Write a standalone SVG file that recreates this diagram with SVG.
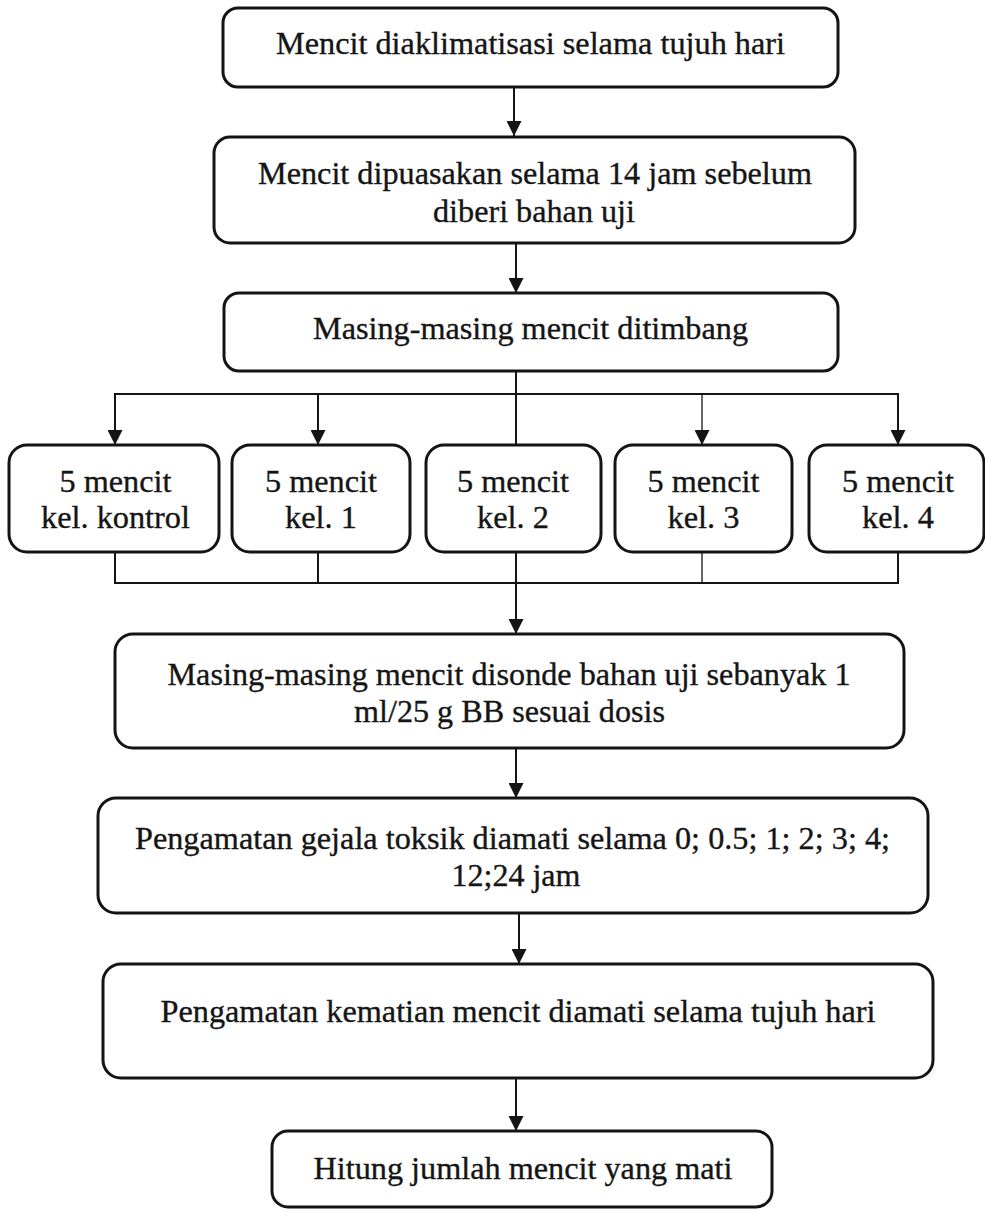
<svg xmlns="http://www.w3.org/2000/svg" width="985" height="1212" viewBox="0 0 985 1212">
  <style>
    .box { fill: #ffffff; stroke: #141414; stroke-width: 3; }
    .wire { fill: none; stroke: #141414; stroke-width: 2; }
    .thin { fill: none; stroke: #141414; stroke-width: 1.3; }
  </style>
  <defs>
    <marker id="head" markerUnits="userSpaceOnUse" markerWidth="15" markerHeight="15" viewBox="0 0 15 15" refX="15" refY="7.5" orient="auto">
      <path d="M0,0 L15,7.5 L0,15 Z" fill="#141414"/>
    </marker>
  </defs>
  <rect width="985" height="1212" fill="#ffffff"/>

  <!-- connectors -->
  <g id="connectors">
    <line class="wire" x1="514" y1="87" x2="514" y2="136" marker-end="url(#head)"/>
    <line class="wire" x1="516" y1="243" x2="516" y2="293" marker-end="url(#head)"/>
    <!-- fan-out to the five groups -->
    <line class="wire" x1="516" y1="371" x2="516" y2="445"/>
    <line class="wire" x1="114" y1="394" x2="899" y2="394"/>
    <line class="wire" x1="115" y1="394" x2="115" y2="445" marker-end="url(#head)"/>
    <line class="wire" x1="318" y1="394" x2="318" y2="445" marker-end="url(#head)"/>
    <line class="thin" x1="702" y1="394" x2="702" y2="445" marker-end="url(#head)"/>
    <line class="wire" x1="898" y1="394" x2="898" y2="445" marker-end="url(#head)"/>
    <!-- fan-in from the five groups -->
    <line class="wire" x1="115" y1="552" x2="115" y2="583"/>
    <line class="wire" x1="318" y1="552" x2="318" y2="583"/>
    <line class="wire" x1="516" y1="552" x2="516" y2="583"/>
    <line class="thin" x1="702" y1="552" x2="702" y2="583"/>
    <line class="wire" x1="898" y1="552" x2="898" y2="583"/>
    <line class="wire" x1="114" y1="583" x2="899" y2="583"/>
    <line class="wire" x1="516" y1="583" x2="516" y2="634" marker-end="url(#head)"/>
    <line class="wire" x1="516" y1="748" x2="516" y2="798" marker-end="url(#head)"/>
    <line class="wire" x1="519" y1="913" x2="519" y2="964" marker-end="url(#head)"/>
    <line class="wire" x1="516" y1="1078" x2="516" y2="1131" marker-end="url(#head)"/>
  </g>

  <g font-family="Liberation Serif, Times New Roman, serif" font-size="32" fill="#151515" stroke="#151515" stroke-width="0.35" text-anchor="middle">
  <g id="aklimatisasi">
    <rect class="box" x="223" y="8" width="615" height="79" rx="15"/>
    <text x="530.5" y="54" textLength="509" lengthAdjust="spacingAndGlyphs">Mencit diaklimatisasi selama tujuh hari</text>
  </g>

  <g id="puasa">
    <rect class="box" x="214" y="137" width="641" height="106" rx="16"/>
    <text x="535" y="184" textLength="554" lengthAdjust="spacingAndGlyphs">Mencit dipuasakan selama 14 jam sebelum</text>
    <text x="534" y="222" textLength="202" lengthAdjust="spacingAndGlyphs">diberi bahan uji</text>
  </g>

  <g id="timbang">
    <rect class="box" x="224" y="293" width="614" height="78" rx="15"/>
    <text x="530.5" y="339" textLength="435" lengthAdjust="spacingAndGlyphs">Masing-masing mencit ditimbang</text>
  </g>

  <g id="kel-kontrol">
    <rect class="box" x="9" y="445" width="210" height="107" rx="18"/>
    <text x="115.5" y="492" textLength="112" lengthAdjust="spacingAndGlyphs">5 mencit</text>
    <text x="115.5" y="528" textLength="149" lengthAdjust="spacingAndGlyphs">kel. kontrol</text>
  </g>

  <g id="kel-1">
    <rect class="box" x="232" y="445" width="178" height="107" rx="18"/>
    <text x="321" y="492" textLength="112" lengthAdjust="spacingAndGlyphs">5 mencit</text>
    <text x="321" y="528" textLength="72" lengthAdjust="spacingAndGlyphs">kel. 1</text>
  </g>

  <g id="kel-2">
    <rect class="box" x="426" y="445" width="175" height="107" rx="18"/>
    <text x="513" y="492" textLength="112" lengthAdjust="spacingAndGlyphs">5 mencit</text>
    <text x="513" y="528" textLength="72" lengthAdjust="spacingAndGlyphs">kel. 2</text>
  </g>

  <g id="kel-3">
    <rect class="box" x="615" y="445" width="177" height="107" rx="18"/>
    <text x="703.5" y="492" textLength="112" lengthAdjust="spacingAndGlyphs">5 mencit</text>
    <text x="703.5" y="528" textLength="72" lengthAdjust="spacingAndGlyphs">kel. 3</text>
  </g>

  <g id="kel-4">
    <rect class="box" x="809" y="445" width="175" height="107" rx="18"/>
    <text x="898" y="492" textLength="112" lengthAdjust="spacingAndGlyphs">5 mencit</text>
    <text x="898" y="528" textLength="72" lengthAdjust="spacingAndGlyphs">kel. 4</text>
  </g>

  <g id="sonde">
    <rect class="box" x="115" y="634" width="789" height="114" rx="18"/>
    <text x="509" y="685" textLength="683" lengthAdjust="spacingAndGlyphs">Masing-masing mencit disonde bahan uji sebanyak 1</text>
    <text x="509.5" y="722" textLength="311" lengthAdjust="spacingAndGlyphs">ml/25 g BB sesuai dosis</text>
  </g>

  <g id="gejala-toksik">
    <rect class="box" x="98" y="798" width="830" height="115" rx="18"/>
    <text x="512.5" y="849" textLength="755" lengthAdjust="spacingAndGlyphs">Pengamatan gejala toksik diamati selama 0; 0.5; 1; 2; 3; 4;</text>
    <text x="516" y="886" textLength="129" lengthAdjust="spacingAndGlyphs">12;24 jam</text>
  </g>

  <g id="kematian">
    <rect class="box" x="103" y="964" width="830" height="114" rx="18"/>
    <text x="518" y="1022" textLength="715" lengthAdjust="spacingAndGlyphs">Pengamatan kematian mencit diamati selama tujuh hari</text>
  </g>

  <g id="hitung">
    <rect class="box" x="272" y="1131" width="500" height="76" rx="16"/>
    <text x="523" y="1179" textLength="419" lengthAdjust="spacingAndGlyphs">Hitung jumlah mencit yang mati</text>
  </g>
  </g>
</svg>
